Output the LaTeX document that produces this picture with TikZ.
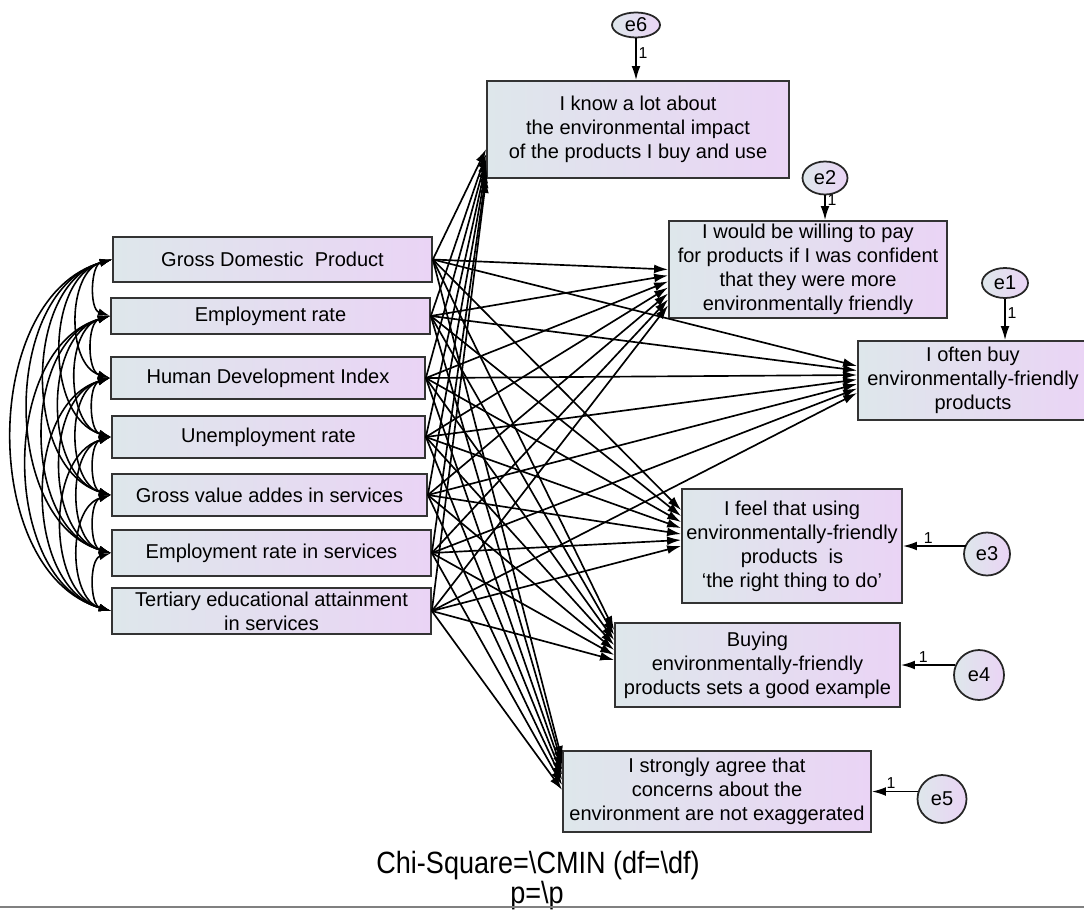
\documentclass[tikz,border=0pt]{standalone}
\usepackage{fontspec}
\setmainfont{Liberation Sans}
\newfontfamily\chifont[FakeStretch=0.88]{Liberation Sans}
\usetikzlibrary{arrows.meta,shapes.geometric}
\definecolor{boxleft}{RGB}{222,231,235}
\definecolor{boxright}{RGB}{234,212,245}
\newcommand\amosfont{\fontsize{11.4}{13.6}\selectfont}
\newcommand\onefont{\fontsize{9}{10}\selectfont}
\tikzset{
  obs/.style={draw=black!80,line width=1pt,left color=boxleft,right color=boxright,
    align=center,inner sep=0pt,font=\amosfont},
  err/.style={ellipse,draw=black!85,line width=1pt,left color=boxleft,right color=boxright,
    inner sep=0pt,font=\amosfont},
  regr/.style={-{Latex[length=8pt,width=5pt]},line width=0.95pt},
  cov/.style={{Latex[length=7pt,width=4.4pt]}-{Latex[length=7pt,width=4.4pt]},line width=0.9pt,bend right=74},
  one/.style={font=\onefont,inner sep=1pt}
}
\begin{document}
\begin{tikzpicture}[x=0.02cm,y=-0.02cm]
\useasboundingbox (0,0) rectangle (1084,909);
% exogenous variables
\node[obs,minimum width=6.38cm,minimum height=0.90cm] (x1) at (272.5,259.5) {Gross Domestic\ \ Product};
\node[obs,minimum width=6.38cm,minimum height=0.72cm] (x2) at (270.5,316) {Employment rate};
\node[obs,minimum width=6.28cm,minimum height=0.84cm] (x3) at (268,378) {Human Development Index};
\node[obs,minimum width=6.26cm,minimum height=0.84cm] (x4) at (268.5,437) {Unemployment rate};
\node[obs,minimum width=6.30cm,minimum height=0.84cm] (x5) at (269.5,495) {Gross value addes in services};
\node[obs,minimum width=6.38cm,minimum height=0.92cm] (x6) at (271.5,553) {Employment rate in services};
\node[obs,minimum width=6.38cm,minimum height=0.92cm] (x7) at (271.5,611) {Tertiary educational attainment\\ in services};
% endogenous variables
\node[obs,minimum width=6.04cm,minimum height=1.94cm] (y1) at (638,129.5) {I know a lot about\\the environmental impact\\of the products I buy and use};
\node[obs,minimum width=5.56cm,minimum height=1.94cm] (y2) at (808,269.5) {I would be willing to pay\\for products if I was confident\\that they were more\\environmentally friendly};
\node[obs,minimum width=4.60cm,minimum height=1.58cm] (y3) at (973,380.5) {I often buy\\environmentally-friendly\\products};
\node[obs,minimum width=4.40cm,minimum height=2.28cm] (y4) at (792,546) {I feel that using\\environmentally-friendly\\products\ \ is\\ ‘the right thing to do’};
\node[obs,minimum width=5.70cm,minimum height=1.68cm] (y5) at (757.5,665) {Buying\\environmentally-friendly\\products sets a good example};
\node[obs,minimum width=6.16cm,minimum height=1.62cm] (y6) at (717,791.5) {I strongly agree that\\concerns about the\\environment are not exaggerated};
% errors
\node[err,minimum width=0.96cm,minimum height=0.50cm] (e6) at (636,25) {e6};
\node[err,minimum width=0.90cm,minimum height=0.66cm] (e2) at (825,178) {e2};
\node[err,minimum width=0.92cm,minimum height=0.60cm] (e1) at (1005,283) {e1};
\node[err,minimum width=0.92cm,minimum height=0.86cm] (e3) at (987,554) {e3};
\node[err,minimum width=1.00cm,minimum height=1.00cm] (e4) at (979,675) {e4};
\node[err,minimum width=0.98cm,minimum height=0.96cm] (e5) at (942,799) {e5};

\draw[regr] (e6) -- (e6 |- y1.north) node[one,pos=0.35,right]{1};
\draw[regr] (e2) -- (e2 |- y2.north) node[one,pos=0.2,right]{1};
\draw[regr] (e1) -- (e1 |- y3.north) node[one,pos=0.35,right]{1};
\draw[regr,shorten <=-1.5pt] (e3.west |- y4.east) -- (y4.east) node[one,pos=0.58,above]{1};
\draw[regr,shorten <=-1pt] (e4.west |- y5.east) -- (y5.east) node[one,pos=0.57,above]{1};
\draw[regr,shorten <=-1pt] (e5.west |- y6.east) -- (y6.east) node[one,pos=0.57,above]{1};

% covariances
\foreach \i in {1,...,6}{
  \pgfmathtruncatemacro\k{\i+1}
  \foreach \j in {\k,...,7}
    \draw[cov] (x\i.west) to (x\j.west);
}
% regressions
\foreach \i in {1,...,7}{
  \draw[regr] (x\i.east) -- ([yshift={(7-\i)*2.835}]y1.south west);
  \draw[regr] (x\i.east) -- ([yshift={-(\i-1)*3.4}]y2.west);
  \draw[regr] (x\i.east) -- ([yshift={(14.5-(\i-1)*4.5)*0.567}]y3.west);
  \draw[regr] (x\i.east) -- ([yshift={(36-(\i-1)*6)*0.567}]y4.west);
  \draw[regr] (x\i.east) -- ([yshift={(35-(\i-1)*5)*0.567}]y5.west);
  \draw[regr] (x\i.east) -- ([yshift={(31.5-(\i-1)*5)*0.567}]y6.west);
}

\node[font={\chifont\fontsize{17.5}{19}\selectfont},anchor=base,inner sep=0pt] (chi) at (538,873) {Chi-Square=\textbackslash CMIN (df=\textbackslash df)};
\node[font={\chifont\fontsize{17.5}{19}\selectfont},anchor=base,inner sep=0pt] (pval) at (537,903) {p=\textbackslash p};
\draw[black!50,line width=1.2pt] (0,907) -- (1084,907);
\end{tikzpicture}
\end{document}
